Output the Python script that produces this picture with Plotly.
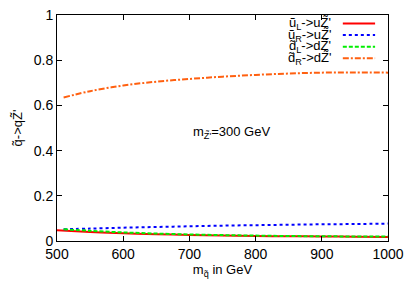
import plotly.graph_objects as go

# Data
x_red = [500, 550, 600, 650, 700, 750, 800, 850, 900, 950, 1000]
y_red = [0.048, 0.040, 0.034, 0.030, 0.027, 0.024, 0.022, 0.021, 0.020, 0.019, 0.018]

x_other = [510, 550, 600, 650, 700, 750, 800, 850, 900, 950, 1000]
y_blue = [0.052, 0.055, 0.059, 0.062, 0.065, 0.068, 0.070, 0.072, 0.074, 0.075, 0.077]
y_green = [0.052, 0.045, 0.038, 0.033, 0.029, 0.026, 0.024, 0.022, 0.021, 0.020, 0.020]
y_orange = [0.635, 0.663, 0.688, 0.705, 0.717, 0.727, 0.735, 0.741, 0.745, 0.746, 0.745]

labels = ["ũ<sub>L</sub>->uZ̃'", "ũ<sub>R</sub>->uZ̃'", "d̃<sub>L</sub>->dZ̃'", "d̃<sub>R</sub>->dZ̃'"]
colors = ["#ff0000", "#0000ff", "#00ee00", "#ff6010"]
dashes = ["solid", "dot", "4px,2px", "6px,2px,2px,2px"]
x_ticks = [500, 600, 700, 800, 900, 1000]
y_ticks = [0, 0.2, 0.4, 0.6, 0.8, 1]
y_ticklabels = ["0", "0.2", "0.4", "0.6", "0.8", "1"]

series = [(x_red, y_red), (x_other, y_blue), (x_other, y_green), (x_other, y_orange)]

FONT = "Liberation Sans, Arial, sans-serif"
fig = go.Figure()
for (xs, ys), lab, c, d in zip(series, labels, colors, dashes):
    fig.add_trace(go.Scatter(x=xs, y=ys, mode="lines", name=lab,
                             line=dict(color=c, width=2, dash=d, shape="spline"),
                             showlegend=False))

# gnuplot-style legend: text right-aligned, sample line to the right
leg_y = [0.962, 0.911, 0.860, 0.809]
for lab, c, d, yy in zip(labels, colors, dashes, leg_y):
    fig.add_annotation(x=0.834, y=yy, xref="paper", yref="paper", text=lab,
                       showarrow=False, xanchor="right", yanchor="middle",
                       font=dict(size=13, color="black", family=FONT))
    fig.add_shape(type="line", xref="paper", yref="paper", x0=0.8635, x1=0.961,
                  y0=yy, y1=yy, line=dict(color=c, width=2, dash=d))

fig.add_annotation(x=702, y=0.48, text="m<sub>Z̃'</sub>=300 GeV", showarrow=False,
                   xanchor="left", yanchor="middle",
                   font=dict(size=13, color="black", family=FONT))

axis_common = dict(showgrid=False, zeroline=False, showline=True, linecolor="black",
                   linewidth=1, mirror="ticks", ticks="inside", ticklen=5,
                   tickcolor="black", ticklabeloverflow="allow",
                   tickfont=dict(size=14, color="black", family=FONT))
fig.update_xaxes(range=[500, 1000], tickvals=x_ticks,
                 title=dict(text="m<sub>q̃</sub> in GeV", font=dict(size=13, color="black", family=FONT), standoff=4),
                 **axis_common)
fig.update_yaxes(range=[0, 1], tickvals=y_ticks, ticktext=y_ticklabels,
                 title=dict(text="q̃->qZ̃'", font=dict(size=13, color="black", family=FONT), standoff=8),
                 **axis_common)
fig.update_layout(width=411, height=282, margin=dict(l=57, r=17, t=7, b=40),
                  plot_bgcolor="white", paper_bgcolor="white",
                  font=dict(family=FONT, size=12, color="black"))
fig.write_html("out.html", config={"displayModeBar": False},
               post_script="document.body.style.margin='0';")
